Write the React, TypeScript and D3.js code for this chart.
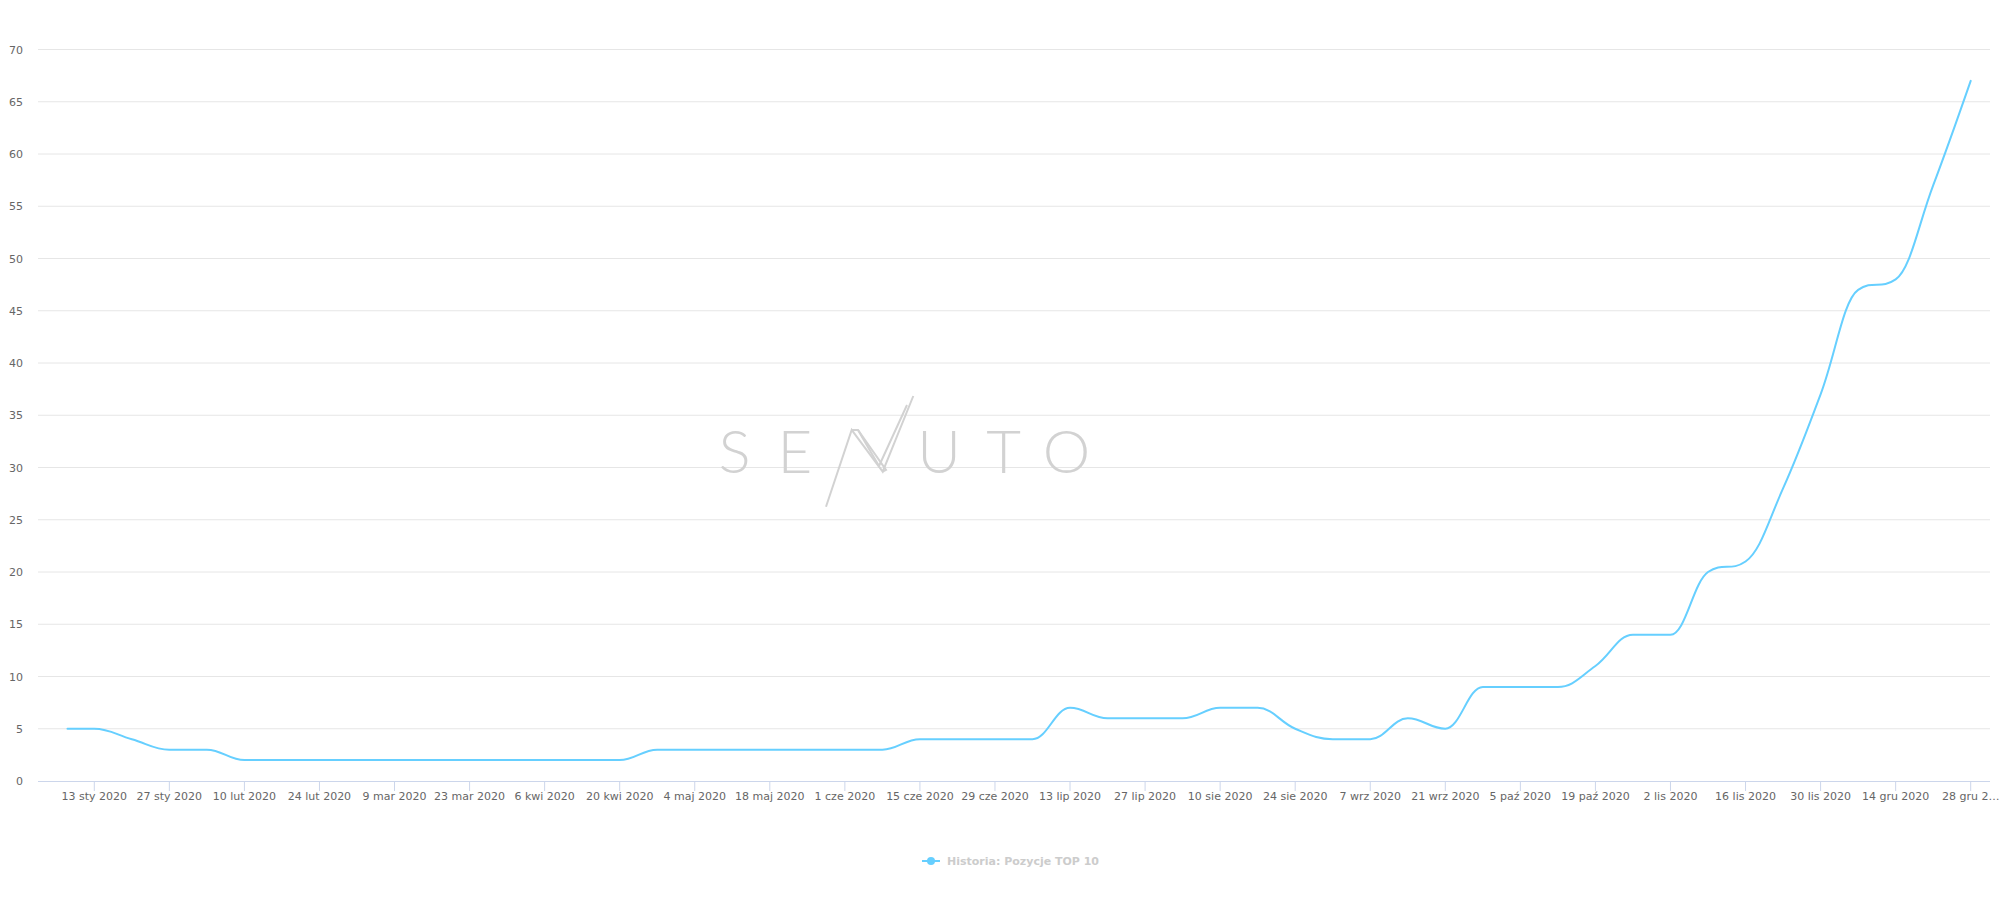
import React from "react";
import * as d3 from "d3";

// ---------- data ----------
const firstDate = "2020-01-08";
const firstValue = 5;
const mondayStart = "2020-01-13";
const weeklyValues = [
  5, 4, 3, 3, 2, 2, 2, 2, 2, 2, 2, 2, 2, 2, 2, 3, 3, 3, 3, 3, 3, 3, 4, 4, 4, 4,
  7, 6, 6, 6, 7, 7, 5, 4, 4, 6, 5, 9, 9, 9, 11, 14, 14, 20, 21, 28, 37, 47, 48,
  57, 67,
];
const yTicks = [0, 5, 10, 15, 20, 25, 30, 35, 40, 45, 50, 55, 60, 65, 70];
const xTickLabels = [
  "13 sty 2020", "27 sty 2020", "10 lut 2020", "24 lut 2020", "9 mar 2020",
  "23 mar 2020", "6 kwi 2020", "20 kwi 2020", "4 maj 2020", "18 maj 2020",
  "1 cze 2020", "15 cze 2020", "29 cze 2020", "13 lip 2020", "27 lip 2020",
  "10 sie 2020", "24 sie 2020", "7 wrz 2020", "21 wrz 2020", "5 paź 2020",
  "19 paź 2020", "2 lis 2020", "16 lis 2020", "30 lis 2020", "14 gru 2020",
  "28 gru 2…",
];
const seriesName = "Historia: Pozycje TOP 10";

// ---------- layout ----------
const W = 2000;
const H = 900;
const plotLeft = 38;
const plotRight = 1990;
const y0px = 781;
const y70px = 49.5;
const lineColor = "#66cfff";
const font = "'DejaVu Sans', 'Lucida Grande', sans-serif";

const start = new Date(mondayStart + "T00:00:00Z");
const points: { date: Date; value: number }[] = [
  { date: new Date(firstDate + "T00:00:00Z"), value: firstValue },
  ...weeklyValues.map((v, i) => ({ date: d3.utcDay.offset(start, 7 * i), value: v })),
];
const tickDates = xTickLabels.map((_, i) => d3.utcDay.offset(start, 14 * i));

const x = d3
  .scaleUtc()
  .domain([start, d3.utcDay.offset(start, 350)])
  .range([94.3, 1970.7]);
const y = d3.scaleLinear().domain([0, 70]).range([y0px, y70px]);

// Highcharts-style spline
function splinePath(pts: [number, number][]): string {
  const smoothing = 1.5;
  const denom = smoothing + 1;
  const rc: { x?: number; y?: number }[] = pts.map(() => ({}));
  let d = `M${pts[0][0]},${pts[0][1]}`;
  for (let i = 1; i < pts.length; i++) {
    const [px, py] = pts[i];
    let lcx: number | undefined;
    let lcy: number | undefined;
    if (i < pts.length - 1) {
      const [lx, ly] = pts[i - 1];
      const [nx, ny] = pts[i + 1];
      lcx = (smoothing * px + lx) / denom;
      lcy = (smoothing * py + ly) / denom;
      const rcx = (smoothing * px + nx) / denom;
      let rcy = (smoothing * py + ny) / denom;
      let corr = 0;
      if (rcx !== lcx) corr = ((rcy - lcy) * (rcx - px)) / (rcx - lcx) + py - rcy;
      lcy += corr;
      rcy += corr;
      if (lcy > ly && lcy > py) {
        lcy = Math.max(ly, py);
        rcy = 2 * py - lcy;
      } else if (lcy < ly && lcy < py) {
        lcy = Math.min(ly, py);
        rcy = 2 * py - lcy;
      }
      if (rcy > ny && rcy > py) {
        rcy = Math.max(ny, py);
        lcy = 2 * py - rcy;
      } else if (rcy < ny && rcy < py) {
        rcy = Math.min(ny, py);
        lcy = 2 * py - rcy;
      }
      rc[i] = { x: rcx, y: rcy };
    }
    const prev = pts[i - 1];
    const c1x = rc[i - 1].x ?? prev[0];
    const c1y = rc[i - 1].y ?? prev[1];
    d += `C${c1x},${c1y},${lcx ?? px},${lcy ?? py},${px},${py}`;
  }
  return d;
}

export default function App() {
  const pix: [number, number][] = points.map((p) => [x(p.date), y(p.value)]);
  const path = splinePath(pix);
  const wmColor = "#d2d2d2";
  const wmLetters: [string, number][] = [
    ["S", 734.5],
    ["E", 795],
    ["U", 939],
    ["T", 1003.5],
    ["O", 1066.5],
  ];
  return (
    <svg
      width={W}
      height={H}
      style={{ position: "absolute", left: 0, top: 0, background: "#fff" }}
      fontFamily={font}
    >
      <rect x={0} y={0} width={W} height={H} fill="#ffffff" />
      {/* grid */}
      {yTicks.map((t) => (
        <g key={t}>
          {t > 0 && (
            <line x1={plotLeft} x2={plotRight} y1={y(t)} y2={y(t)} stroke="#e6e6e6" strokeWidth={1} />
          )}
          <text x={23} y={y(t) + 4} textAnchor="end" fontSize={11} fill="#666666">
            {t}
          </text>
        </g>
      ))}
      {/* watermark */}
      <g fill={wmColor} style={{ fontFamily: "Lato", fontWeight: 300 }} fontSize={60}>
        {wmLetters.map(([l, cx]) => (
          <text key={l} x={cx} y={473} textAnchor="middle">
            {l}
          </text>
        ))}
      </g>
      <g fill="none" stroke={wmColor} strokeWidth={2} strokeLinejoin="miter">
        <polyline points="826,506.7 851.7,430 882.7,471.7 913.3,396" />
        <polyline points="851.7,430 858,430 886,470 882.7,471.7" />
        <polyline points="858,430 879,466 907,405" />
      </g>
      {/* x axis */}
      <line x1={plotLeft} x2={plotRight} y1={y0px + 0.5} y2={y0px + 0.5} stroke="#ccd6eb" strokeWidth={1} />
      {tickDates.map((d, i) => (
        <g key={i}>
          <line x1={x(d)} x2={x(d)} y1={y0px} y2={y0px + 10} stroke="#ccd6eb" strokeWidth={1} />
          <text x={x(d)} y={800} textAnchor="middle" fontSize={11} fill="#666666">
            {xTickLabels[i]}
          </text>
        </g>
      ))}
      {/* series */}
      <path d={path} fill="none" stroke={lineColor} strokeWidth={2} strokeLinejoin="round" strokeLinecap="round" />
      {/* legend */}
      <g>
        <line x1={922} x2={940} y1={861} y2={861} stroke={lineColor} strokeWidth={2} />
        <circle cx={931} cy={861} r={4} fill={lineColor} />
        <text x={947} y={865} fontSize={11} fontWeight="bold" fill="#cccccc">
          {seriesName}
        </text>
      </g>
    </svg>
  );
}
